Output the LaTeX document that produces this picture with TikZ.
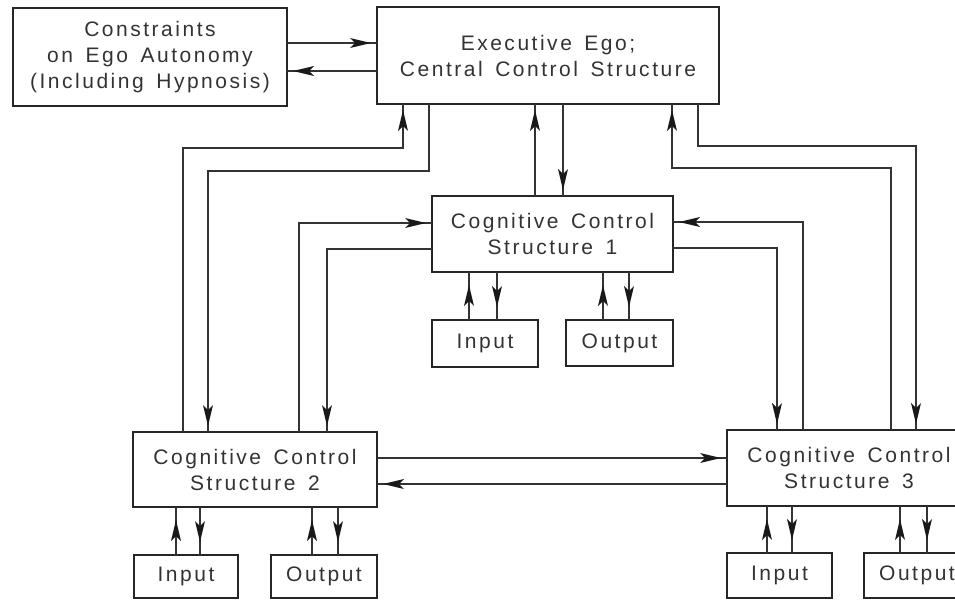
\documentclass[tikz,border=0pt]{standalone}
\usepackage{fontspec}
\setmainfont{Liberation Sans}[LetterSpace=12,WordSpace=1.5]
\usetikzlibrary{decorations.markings}
\newcommand{\headshape}{\fill[black!90] (0pt,0pt) -- (-21pt,5pt) -- (-16pt,0pt) -- (-21pt,-5pt) -- cycle;}
\begin{document}
\begin{tikzpicture}[x=1pt,y=-1pt,
  box/.style={draw=black!85,line width=2.5pt,inner sep=0pt,outer sep=0pt,align=center,
    font=\fontsize{21}{26}\selectfont,text=black!80},
  conn/.style={draw=black!80,line width=1.1pt},
  arrowhd/.style={postaction={decorate},decoration={markings,
    mark=at position -6pt with {\headshape}}},
  arrowmid/.style={postaction={decorate},decoration={markings,
    mark=at position -13pt with {\headshape}}},
]
\useasboundingbox (0,0) rectangle (955,600);
\clip (0,0) rectangle (955,600);
\fill[white] (0,0) rectangle (955,600);

% boxes
\node[box,minimum width=274pt,minimum height=98pt] (cons) at (150,57) {Constraints\\on Ego Autonomy\\(Including Hypnosis)};
\node[box,minimum width=342pt,minimum height=97pt] (exec) at (548,55.5) {Executive Ego;\\Central Control Structure};
\node[box,minimum width=241pt,minimum height=76pt] (ccs1) at (552.5,234) {Cognitive Control\\Structure 1};
\node[box,minimum width=106pt,minimum height=47pt] (in1) at (485,343.5) {Input};
\node[box,minimum width=107pt,minimum height=46pt] (out1) at (619.5,343) {Output};
\node[box,minimum width=244pt,minimum height=75pt] (ccs2) at (255,469.5) {Cognitive Control\\Structure 2};
\node[box,minimum width=104pt,minimum height=43pt] (in2) at (186,576.5) {Input};
\node[box,minimum width=106pt,minimum height=43pt] (out2) at (324,576.5) {Output};
\node[box,minimum width=244pt,minimum height=76pt] (ccs3) at (849,468) {Cognitive Control\\Structure 3};
\node[box,minimum width=105pt,minimum height=45pt] (in3) at (779.5,575.5) {Input};
\node[box,minimum width=106pt,minimum height=45pt] (out3) at (917,575.5) {Output};

% constraints <-> executive
\draw[conn,arrowhd] (cons.east |- 0,43) -- (exec.west |- 0,43);
\draw[conn,arrowhd] (exec.west |- 0,71) -- (cons.east |- 0,71);

% executive <-> ccs1
\draw[conn,arrowhd] (ccs1.north -| 535,0) -- (exec.south -| 535,0);
\draw[conn,arrowhd] (exec.south -| 563,0) -- (ccs1.north -| 563,0);

% executive <-> ccs2
\draw[conn,arrowhd] (ccs2.north -| 183,0) |- (403,148) -- (exec.south -| 403,0);
\draw[conn,arrowhd] (exec.south -| 429,0) |- (208,171) -- (ccs2.north -| 208,0);

% executive <-> ccs3
\draw[conn,arrowhd] (ccs3.north -| 891,0) |- (672,168) -- (exec.south -| 672,0);
\draw[conn,arrowhd] (exec.south -| 698,0) |- (916,146) -- (ccs3.north -| 916,0);

% ccs1 <-> ccs2
\draw[conn,arrowhd] (ccs2.north -| 299,0) |- (ccs1.west |- 0,223);
\draw[conn,arrowhd] (ccs1.west |- 0,249) -| (ccs2.north -| 327,0);

% ccs1 <-> ccs3
\draw[conn,arrowhd] (ccs3.north -| 803,0) |- (ccs1.east |- 0,222);
\draw[conn,arrowhd] (ccs1.east |- 0,248) -| (ccs3.north -| 777,0);

% ccs2 <-> ccs3
\draw[conn,arrowhd] (ccs2.east |- 0,458) -- (ccs3.west |- 0,458);
\draw[conn,arrowhd] (ccs3.west |- 0,484) -- (ccs2.east |- 0,484);

% input / output
\draw[conn,arrowmid] (in1.north -| 469,0) -- (ccs1.south -| 469,0);
\draw[conn,arrowmid] (ccs1.south -| 497,0) -- (in1.north -| 497,0);
\draw[conn,arrowmid] (out1.north -| 603,0) -- (ccs1.south -| 603,0);
\draw[conn,arrowmid] (ccs1.south -| 629,0) -- (out1.north -| 629,0);

\draw[conn,arrowmid] (in2.north -| 176,0) -- (ccs2.south -| 176,0);
\draw[conn,arrowmid] (ccs2.south -| 200,0) -- (in2.north -| 200,0);
\draw[conn,arrowmid] (out2.north -| 312,0) -- (ccs2.south -| 312,0);
\draw[conn,arrowmid] (ccs2.south -| 338,0) -- (out2.north -| 338,0);

\draw[conn,arrowmid] (in3.north -| 767,0) -- (ccs3.south -| 767,0);
\draw[conn,arrowmid] (ccs3.south -| 792,0) -- (in3.north -| 792,0);
\draw[conn,arrowmid] (out3.north -| 900,0) -- (ccs3.south -| 900,0);
\draw[conn,arrowmid] (ccs3.south -| 927,0) -- (out3.north -| 927,0);
\end{tikzpicture}
\end{document}
